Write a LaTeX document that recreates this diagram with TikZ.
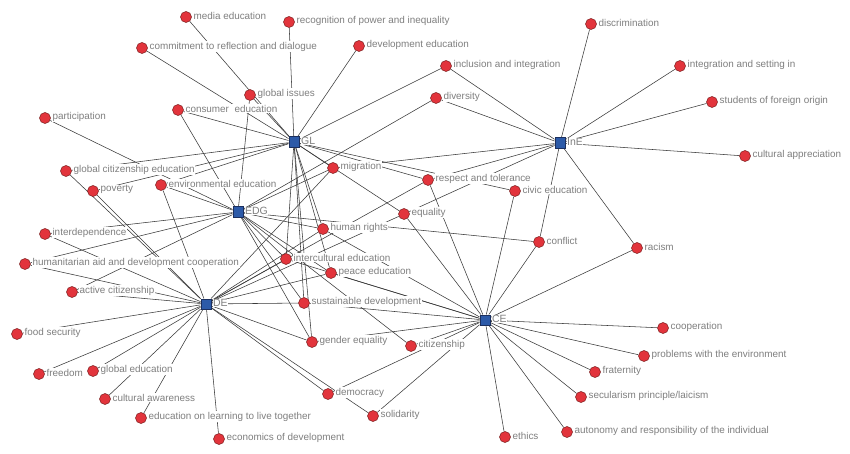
\documentclass[tikz,border=0pt]{standalone}
\usepackage{fontspec}
\setmainfont{Liberation Sans}
\pgfdeclarelayer{edges}
\pgfdeclarelayer{labels}
\pgfsetlayers{edges,labels,main}
\definecolor{nred}{HTML}{E2343C}
\definecolor{nredd}{HTML}{7A1E1E}
\definecolor{nblue}{HTML}{2C5AA8}
\definecolor{nblued}{HTML}{1B2F5E}
\definecolor{labgray}{HTML}{7F7F7F}
\definecolor{edgegray}{HTML}{3A3A3A}
\tikzset{
  rnode/.style={circle, fill=nred, draw=nredd, line width=0.5pt, minimum size=11pt, inner sep=0pt},
  hubnode/.style={rectangle, fill=nblue, draw=nblued, line width=0.5pt, minimum size=10.5pt, inner sep=0pt},
  lab/.style={anchor=west, text=labgray, fill=white, inner sep=0.6pt, font=\fontsize{9.9}{11}\selectfont},
  hublab/.style={anchor=west, text=labgray, fill=white, inner sep=0.4pt, font=\fontsize{10.5}{11}\selectfont},
  edge/.style={draw=edgegray, line width=0.55pt},
}
\newcommand{\rn}[4]{%
  \node[rnode] (#1) at (#2,#3) {};
  \begin{pgfonlayer}{labels}\node[lab] at ([xshift=1pt,yshift=1.5pt]#1.east) {#4};\end{pgfonlayer}}
\newcommand{\hb}[4]{%
  \node[hubnode] (#1) at (#2,#3) {};
  \begin{pgfonlayer}{labels}\node[hublab] at ([xshift=1pt,yshift=1pt]#1.east) {#4};\end{pgfonlayer}}
\begin{document}
\begin{tikzpicture}[x=1pt,y=-1pt]
\useasboundingbox (0,0) rectangle (850,454);
\begin{pgfonlayer}{edges}
\fill[white] (0,0) rectangle (850,454);
\end{pgfonlayer}
% hubs
\hb{GL}{294}{142}{GL}
\hb{EDG}{238}{212}{EDG}
\hb{InE}{560}{143}{InE}
\hb{DE}{206}{304}{DE}
\hb{CE}{485}{320}{CE}
% red nodes
\rn{med}{186}{17}{media education}
\rn{rec}{289}{22}{recognition of power and inequality}
\rn{com}{142}{48}{commitment to reflection and dialogue}
\rn{dev}{359}{46}{development education}
\rn{gis}{250}{95}{global issues}
\rn{con}{178}{110}{consumer\ \ education}
\rn{par}{45}{118}{participation}
\rn{gce}{66}{171}{global citizenship education}
\rn{pov}{93}{191}{poverty}
\rn{env}{161}{185}{environmental education}
\rn{int}{45}{234}{interdependence}
\rn{hum}{25}{264}{humanitarian aid and development cooperation}
\rn{act}{72}{292}{active citizenship}
\rn{foo}{17}{334}{food security}
\rn{fre}{39}{374}{freedom}
\rn{gle}{93}{371}{global education}
\rn{cul}{105}{399}{cultural awareness}
\rn{edl}{141}{418}{education on learning to live together}
\rn{eco}{219}{439}{economics of development}
\rn{hr}{323}{229}{human rights}
\rn{ice}{286}{259}{intercultural education}
\rn{pea}{331}{273}{peace education}
\rn{sus}{304}{303}{sustainable development}
\rn{gen}{312}{342}{gender equality}
\rn{dem}{328}{394}{democracy}
\rn{sol}{373}{416}{solidarity}
\rn{cit}{411}{346}{citizenship}
\rn{mig}{333}{168}{migration}
\rn{equ}{404}{214}{equality}
\rn{res}{428}{180}{respect and tolerance}
\rn{inc}{446}{66}{inclusion and integration}
\rn{div}{436}{98}{diversity}
\rn{civ}{515}{191}{civic education}
\rn{dis}{591}{24}{discrimination}
\rn{ise}{680}{66}{integration and setting in}
\rn{sfo}{712}{102}{students of foreign origin}
\rn{cua}{745}{156}{cultural appreciation}
\rn{cnf}{539}{242}{conflict}
\rn{rac}{637}{248}{racism}
\rn{coo}{663}{328}{cooperation}
\rn{pro}{644}{356}{problems with the environment}
\rn{fra}{595}{372}{fraternity}
\rn{sec}{581}{397}{secularism principle/laicism}
\rn{aut}{567}{432}{autonomy and responsibility of the individual}
\rn{eth}{505}{437}{ethics}
% edges
\begin{pgfonlayer}{edges}
\foreach \h/\l in {
  GL/{med,rec,com,dev,gis,con,inc,gce,pov,env,mig,equ,res,civ,hr,ice,sus,pea,gen},
  EDG/{con,gis,par,env,int,hum,act,mig,div,hr,ice,pea,sus,gen,cit,cnf},
  DE/{gce,pov,int,hum,act,foo,fre,gle,cul,edl,eco,gen,dem,sol,sus,pea,ice,hr,mig,res,equ,env},
  InE/{dis,ise,sfo,cua,rac,cnf,inc,div,mig,res,equ},
  CE/{coo,pro,fra,sec,aut,eth,rac,cnf,civ,res,equ,hr,pea,ice,sus,gen,cit,dem,sol}}{
  \foreach \t in \l {\draw[edge] (\h) -- (\t);}
}
\end{pgfonlayer}
\end{tikzpicture}
\end{document}
